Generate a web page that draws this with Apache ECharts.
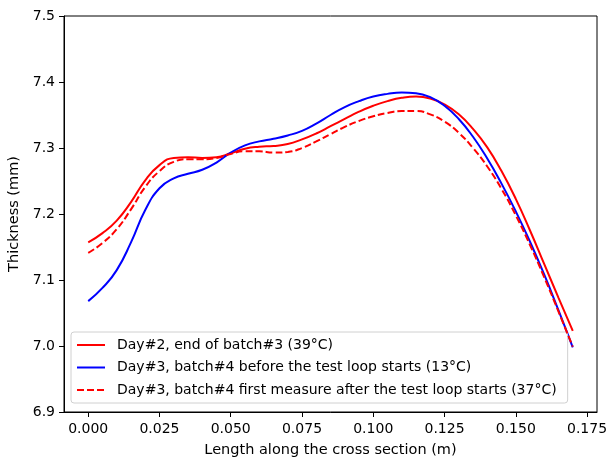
<!DOCTYPE html>
<html>
<head>
<meta charset="utf-8">
<script src="https://cdn.jsdelivr.net/npm/echarts@6/dist/echarts.min.js"></script>
<style>html,body{margin:0;padding:0;background:#fff;}#c{width:609px;height:459px;}</style>
</head>
<body>
<div id="c"></div>
<script>
const xs = [0.000,0.005,0.010,0.015,0.020,0.025,0.030,0.035,0.040,0.045,0.050,0.055,0.060,0.065,0.070,0.075,0.080,0.085,0.090,0.095,0.100,0.105,0.110,0.115,0.120,0.125,0.130,0.135,0.140,0.145,0.150,0.155,0.160,0.165,0.170];
const day2Batch3 = [7.157,7.171,7.190,7.218,7.251,7.274,7.285,7.286,7.285,7.286,7.292,7.299,7.302,7.303,7.306,7.313,7.322,7.333,7.344,7.355,7.364,7.371,7.376,7.378,7.375,7.366,7.351,7.329,7.301,7.265,7.223,7.175,7.124,7.073,7.023];
const day3Before = [7.068,7.088,7.115,7.157,7.206,7.239,7.254,7.261,7.267,7.278,7.293,7.304,7.310,7.314,7.319,7.326,7.337,7.350,7.362,7.371,7.378,7.382,7.384,7.383,7.377,7.364,7.344,7.317,7.284,7.246,7.204,7.158,7.108,7.054,6.998];
const day3After = [7.141,7.156,7.177,7.207,7.241,7.265,7.279,7.283,7.283,7.285,7.291,7.295,7.295,7.293,7.294,7.300,7.310,7.321,7.332,7.341,7.348,7.353,7.356,7.356,7.351,7.340,7.323,7.300,7.272,7.238,7.198,7.153,7.104,7.052,6.999];
const seriesNames = ["Day#2, end of batch#3 (39°C)","Day#3, batch#4 before the test loop starts (13°C)","Day#3, batch#4 first measure after the test loop starts (37°C)"];
const xTicks = [0.000,0.025,0.050,0.075,0.100,0.125,0.150,0.175];
const yTicks = [6.9,7.0,7.1,7.2,7.3,7.4,7.5];

const pairs = ys => xs.map((x,i)=>[x,ys[i]]);
const font = "DejaVu Sans";
const chart = echarts.init(document.getElementById('c'), null, {renderer:'canvas'});
chart.setOption({
  animation:false,
  backgroundColor:'#fff',
  grid:{left:64,right:12,top:16,bottom:47,outerBoundsMode:'none',containLabel:false,show:true,borderColor:'#000',borderWidth:1,backgroundColor:'transparent'},
  xAxis:{type:'value',min:-0.0085,max:0.1785,
    name:'Length along the cross section (m)',nameLocation:'middle',nameGap:31,
    nameTextStyle:{fontFamily:font,fontSize:14.5,color:'#000'},
    axisLine:{show:true,onZero:false,lineStyle:{color:'#000',width:1}},
    axisTick:{show:true,length:5,customValues:xTicks,lineStyle:{color:'#000'}},
    axisLabel:{customValues:xTicks,margin:10,fontFamily:font,fontSize:14,color:'#000',formatter:v=>v.toFixed(3)},
    splitLine:{show:false}},
  yAxis:{type:'value',min:6.9,max:7.5,
    name:'Thickness (mm)',nameLocation:'middle',nameGap:42,
    nameTextStyle:{fontFamily:font,fontSize:14.5,color:'#000'},
    axisLine:{show:true,onZero:false,lineStyle:{color:'#000',width:1}},
    axisTick:{show:true,length:5,customValues:yTicks,lineStyle:{color:'#000'}},
    axisLabel:{customValues:yTicks,margin:9,fontFamily:font,fontSize:14,color:'#000',formatter:v=>v.toFixed(1)},
    splitLine:{show:false}},
  legend:{orient:'vertical',left:71,top:332,
    padding:[6,11,6,5],itemGap:8.5,itemWidth:28,itemHeight:14,
    backgroundColor:'rgba(255,255,255,0.8)',borderColor:'#d0d0d0',borderWidth:1,borderRadius:3,
    itemStyle:{opacity:0},
    textStyle:{fontFamily:font,fontSize:14,color:'#000',padding:[0,0,0,7]},
    data:seriesNames},
  series:[
    {name:seriesNames[0],type:'line',data:pairs(day2Batch3),symbol:'none',smooth:0.5,
      lineStyle:{color:'#ff0000',width:2},itemStyle:{color:'#ff0000'},z:2},
    {name:seriesNames[1],type:'line',data:pairs(day3Before),symbol:'none',smooth:0.5,
      lineStyle:{color:'#0000ff',width:2},itemStyle:{color:'#0000ff'},z:3},
    {name:seriesNames[2],type:'line',data:pairs(day3After),symbol:'none',smooth:0.5,
      lineStyle:{color:'#ff0000',width:2,type:[7,3]},itemStyle:{color:'#ff0000'},z:4}
  ]
});
</script>
</body>
</html>
